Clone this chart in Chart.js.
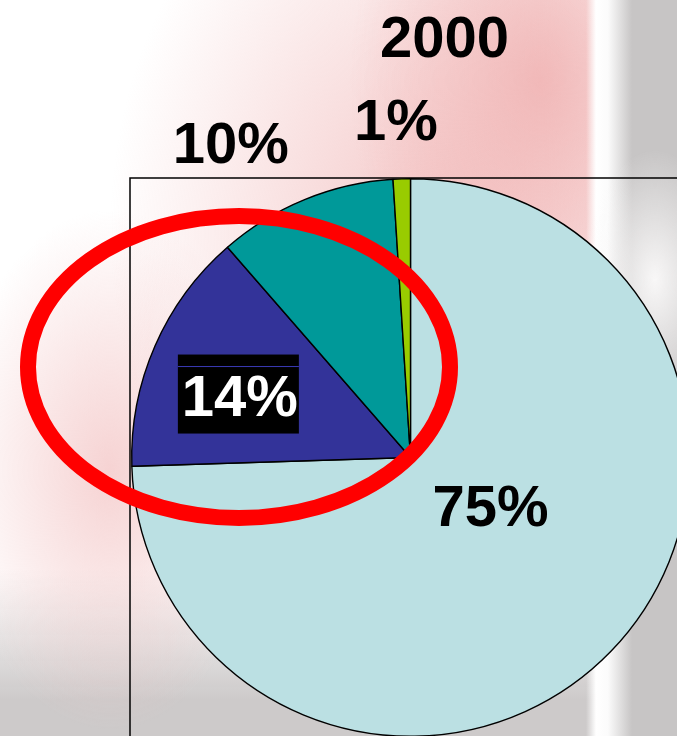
<!DOCTYPE html>
<html>
<head>
<meta charset="utf-8">
<script src="https://cdn.jsdelivr.net/npm/chart.js@4"></script>
<style>
html, body {
    margin: 0;
    padding: 0;
    width: 677px;
    height: 736px;
    overflow: hidden;
}
body {
    background-color: #ffffff;
    background-image:
        radial-gradient(ellipse 70px 130px at 655px 280px, rgba(248,247,247,1), rgba(248,247,247,0)),
        linear-gradient(90deg, rgba(255,255,255,0) 586px, #ffffff 596px, #fbfbfb 608px, #c7c5c5 632px),
        radial-gradient(ellipse 190px 280px at 540px 80px, rgba(239,174,174,0.8), rgba(239,174,174,0)),
        radial-gradient(ellipse 330px 420px at 440px 230px, rgba(243,194,194,0.9), rgba(243,194,194,0)),
        radial-gradient(ellipse 160px 260px at 110px 470px, rgba(243,196,196,0.75), rgba(243,196,196,0)),
        linear-gradient(180deg, rgba(205,202,202,0) 570px, rgba(205,202,202,1) 700px);
}
#wrap {
    position: absolute;
    left: 0;
    top: 0;
    width: 800px;
    height: 800px;
}
</style>
</head>
<body>
<div id="wrap"><canvas id="myChart" width="800" height="800"></canvas></div>
<script>
// chart values
const yearTitle = '2000';
const sliceNames = ['Share A', 'Share B', 'Share C', 'Share D'];
const sliceValues = [74.5, 14.1, 10.4, 1.0];
const sliceLabels = ['75%', '14%', '10%', '1%'];
const sliceColors = ['#bbe0e3', '#333399', '#009999', '#99cc00'];

const labelFont = 'bold 58px "Liberation Sans", Arial, sans-serif';

// where each label sits, in radius units from the pie centre
const labelSpots = [[0.287, 0.171], [-0.612, -0.224], [-0.645, -1.133], [-0.052, -1.215]];

let chart;

document.addEventListener('DOMContentLoaded', function () {
    renderChart();
});

// box frame behind the pie
const framePlugin = {
    id: 'frame',
    beforeDatasetsDraw(c) {
        const ctx = c.ctx;
        ctx.save();
        ctx.strokeStyle = '#000000';
        ctx.lineWidth = 1.5;
        ctx.beginPath();
        ctx.moveTo(130, 800);
        ctx.lineTo(130, 178);
        ctx.lineTo(800, 178);
        ctx.stroke();
        ctx.restore();
    }
};

// percent labels, title and the red ring
const labelPlugin = {
    id: 'labels',
    afterDatasetsDraw(c) {
        const ctx = c.ctx;
        const arc = c.getDatasetMeta(0).data[0];
        const cx = arc.x;
        const cy = arc.y;
        const r = arc.outerRadius;
        ctx.save();
        ctx.font = labelFont;
        ctx.textAlign = 'center';
        ctx.textBaseline = 'alphabetic';
        for (let i = 0; i < sliceLabels.length; i++) {
            const x = cx + labelSpots[i][0] * r;
            const y = cy + labelSpots[i][1] * r;
            if (i === 1) {
                // the 14% label has a black box behind it
                ctx.fillStyle = '#000000';
                ctx.fillRect(x - 62, y - 40.5, 121, 79);
                ctx.fillStyle = '#3b3bb8';
                ctx.fillRect(x - 62, y - 29, 121, 1);
                ctx.fillStyle = '#ffffff';
            } else {
                ctx.fillStyle = '#000000';
            }
            ctx.fillText(sliceLabels[i], x, y + 21);
        }
        ctx.fillStyle = '#000000';
        ctx.fillText(yearTitle, 444.5, 57);
        ctx.restore();
    },
    afterDraw(c) {
        const ctx = c.ctx;
        ctx.save();
        ctx.strokeStyle = '#ff0000';
        ctx.lineWidth = 16;
        ctx.beginPath();
        ctx.ellipse(239, 367, 211, 151, 0, 0, Math.PI * 2);
        ctx.stroke();
        ctx.restore();
    }
};

function renderChart(){
    if(chart){
        chart.destroy();
    }
    const ctx = document.getElementById('myChart').getContext('2d');
    chart = new Chart(ctx, {
        type: 'pie',
        data: {
            labels: sliceNames,
            datasets: [{
                data: sliceValues,
                backgroundColor: sliceColors,
                borderColor: '#000000',
                borderWidth: 1.4
            }]
        },
        options: {
            responsive: false,
            animation: false,
            devicePixelRatio: 1,
            layout: {
                padding: {left: 131, top: 178, right: 110, bottom: 63}
            },
            plugins: {
                legend: {display: false},
                tooltip: {enabled: false}
            }
        },
        plugins: [framePlugin, labelPlugin]
    });
}
</script>
</body>
</html>
